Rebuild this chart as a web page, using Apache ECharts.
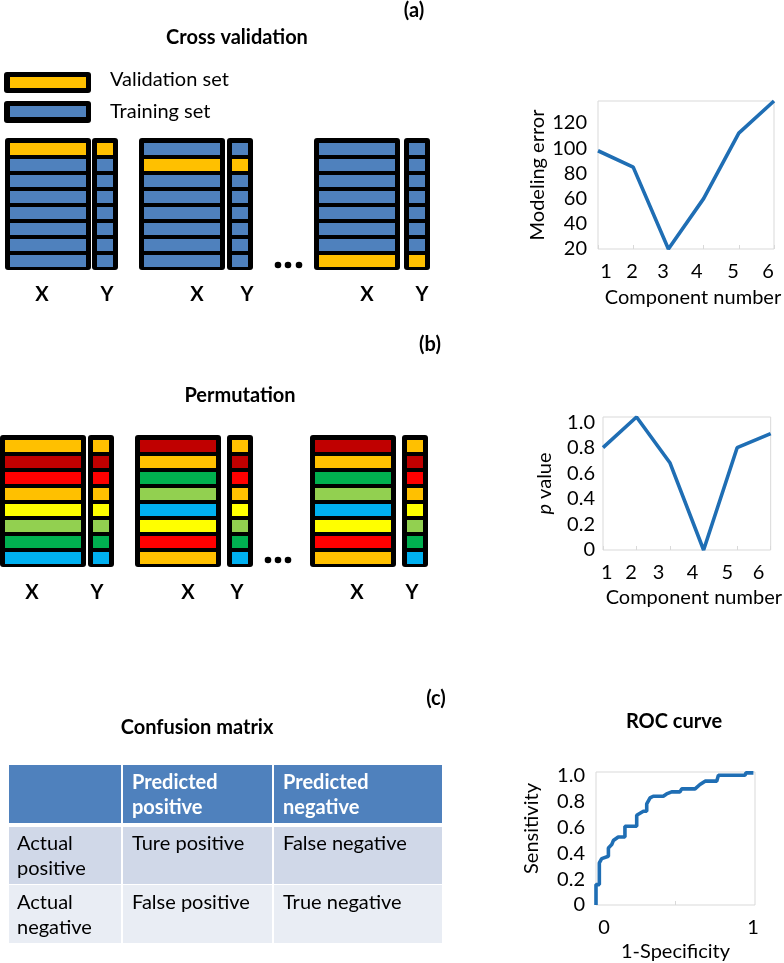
<!DOCTYPE html>
<html><head><meta charset="utf-8">
<script src="https://cdn.jsdelivr.net/npm/echarts@6/dist/echarts.min.js"></script>
<style>html,body{margin:0;padding:0;background:#fff}#c{width:784px;height:963px}</style>
</head><body><div id="c"></div>
<script>
// ---------------- data ----------------
const componentNumbers = [1, 2, 3, 4, 5, 6];
const cvModelingError = [98, 85, 20, 60, 112, 137.5];
const permPValue = [0.80, 1.04, 0.68, 0.00, 0.80, 0.91];
const cvTickPos = [1.23, 1.97, 2.85, 3.81, 4.84, 5.83];
const permTickPos = [1.11, 1.84, 2.66, 3.67, 4.71, 5.64];
const componentTickLabels = ['1', '2', '3', '4', '5', '6'];

const rocFpr = [0, 0, 0.021, 0.021, 0.036, 0.078, 0.078, 0.099, 0.109, 0.14, 0.182, 0.182, 0.256, 0.256, 0.298, 0.319, 0.319, 0.34, 0.36, 0.423, 0.444, 0.476, 0.528, 0.539, 0.623, 0.654, 0.686, 0.759, 0.77, 0.937, 0.943, 0.99];
const rocTpr = [0, 0.158, 0.158, 0.326, 0.359, 0.377, 0.442, 0.468, 0.499, 0.527, 0.527, 0.61, 0.61, 0.695, 0.726, 0.726, 0.783, 0.829, 0.842, 0.842, 0.86, 0.876, 0.876, 0.899, 0.899, 0.933, 0.959, 0.959, 1.005, 1.005, 1.023, 1.023];
const rocTickPos = [0.05, 0.987];
const rocTickLabels = ['0', '1'];

const cvBlocks = [0, 1, 2];
const cvValidationRow = [0, 1, 7];
const permRowsX = [
  ['orange', 'darkred', 'red', 'orange', 'yellow', 'lightgreen', 'green', 'cyan'],
  ['darkred', 'orange', 'green', 'lightgreen', 'cyan', 'yellow', 'red', 'orange'],
  ['darkred', 'orange', 'green', 'lightgreen', 'cyan', 'yellow', 'red', 'orange']
];
const permRowsY = [
  ['orange', 'darkred', 'red', 'orange', 'yellow', 'lightgreen', 'green', 'cyan'],
  ['orange', 'darkred', 'red', 'orange', 'yellow', 'lightgreen', 'green', 'cyan'],
  ['orange', 'darkred', 'red', 'orange', 'yellow', 'lightgreen', 'green', 'cyan']
];

const tableHeader = ['', 'Predicted\npositive', 'Predicted\nnegative'];
const tableRowLabels = ['Actual\npositive', 'Actual\nnegative'];
const tableCells = [['Ture positive', 'False negative'], ['False positive', 'True negative']];

// ---------------- styles / layout ----------------
const FONT = 'Lato, "Open Sans", sans-serif';
const LINE = '#1F6EB4';
const palette = {
  orange: '#FFC000', darkred: '#C00000', red: '#FF0000', yellow: '#FFFF00',
  lightgreen: '#92D050', green: '#00B050', cyan: '#00B0F0',
  validation: '#FFC000', training: '#4F81BD'
};
const blockLayoutA = { xLeft: [5, 139, 314], yLeft: [92, 227, 404] };
const blockLayoutB = { xLeft: [0, 135, 310], yLeft: [88, 227, 402] };

function nearestLabel(v, pos, labels) {
  let bi = 0, bd = Infinity;
  pos.forEach((p, i) => { const d = Math.abs(p - v); if (d < bd) { bd = d; bi = i; } });
  return labels[bi];
}
function multipleFmt(step, fmt) {
  return function (v) {
    const k = v / step;
    if (Math.abs(k - Math.round(k)) > 1e-6) return '';
    return fmt(v);
  };
}
const decFmt = v => (Math.abs(v) < 1e-9 ? '0' : v.toFixed(1));

function makeBlockRenderer(layout, rowColorFn, yColorFn) {
  return function (params, api) {
    const b = api.value(0);
    const xl = layout.xLeft[b], yl = layout.yLeft[b];
    const p0 = api.coord([xl, 0]);
    const pitch = api.size([0, 1])[1];
    const top = p0[1];
    const yP = api.coord([yl, 0])[0];
    const children = [
      { type: 'rect', shape: { x: p0[0], y: top - 3, width: 86, height: 8 * pitch + 4, r: 3 }, style: { fill: '#000' } },
      { type: 'rect', shape: { x: yP, y: top - 3, width: 26, height: 8 * pitch + 4, r: 3 }, style: { fill: '#000' } }
    ];
    for (let r = 0; r < 8; r++) {
      const ry = api.coord([xl, r])[1] + 2;
      children.push({ type: 'rect', shape: { x: p0[0] + 5, y: ry, width: 76, height: 12 }, style: { fill: rowColorFn(b, r) } });
      children.push({ type: 'rect', shape: { x: yP + 5, y: ry, width: 16, height: 12 }, style: { fill: yColorFn(b, r) } });
    }
    return { type: 'group', children };
  };
}

const tableColEdges = [0, 113, 264, 433];
const tableRowEdges = [[0, 58], [62, 119], [120, 178]];
const tableFills = ['#4F81BD', '#D0D8E8', '#E9EDF4'];
const tableData = [];
for (let r = 0; r < 3; r++) for (let c = 0; c < 3; c++) tableData.push([r, c]);
function tableText(r, c) {
  if (r === 0) return tableHeader[c];
  if (c === 0) return tableRowLabels[r - 1];
  return tableCells[r - 1][c - 1];
}

const axisText = { color: '#000', fontSize: 20, fontFamily: FONT };
const hiddenAxis = { show: false };

const option = {
  animation: false,
  backgroundColor: '#fff',
  grid: [
    { left: 598, top: 101, width: 176, height: 148, show: true, borderColor: '#D9D9D9', borderWidth: 1 },
    { left: 603, top: 417, width: 178, height: 133, show: true, borderColor: '#D9D9D9', borderWidth: 1 },
    { left: 596, top: 772, width: 159, height: 133, show: true, borderColor: '#D9D9D9', borderWidth: 1 },
    { left: 0, top: 141, width: 440, height: 128 },
    { left: 0, top: 438, width: 440, height: 128 },
    { left: 9, top: 765, width: 433, height: 178 }
  ],
  xAxis: [
    {
      gridIndex: 0, type: 'value', min: 1, max: 6,
      axisLine: { show: false }, splitLine: { show: false },
      axisTick: { show: true, inside: true, length: 4, customValues: componentNumbers, lineStyle: { color: '#D9D9D9' } },
      axisLabel: Object.assign({ margin: 13, customValues: cvTickPos, formatter: v => nearestLabel(v, cvTickPos, componentTickLabels) }, axisText),
      name: 'Component number', nameLocation: 'middle', nameGap: 39,
      nameTextStyle: Object.assign({ padding: [0, 0, 0, 14] }, axisText)
    },
    {
      gridIndex: 1, type: 'value', min: 1, max: 6,
      axisLine: { show: false }, splitLine: { show: false },
      axisTick: { show: true, inside: true, length: 4, customValues: componentNumbers, lineStyle: { color: '#D9D9D9' } },
      axisLabel: Object.assign({ margin: 13, customValues: permTickPos, formatter: v => nearestLabel(v, permTickPos, componentTickLabels) }, axisText),
      name: 'Component number', nameLocation: 'middle', nameGap: 38,
      nameTextStyle: Object.assign({ padding: [0, 0, 0, 14] }, axisText)
    },
    {
      gridIndex: 2, type: 'value', min: 0, max: 1,
      axisLine: { show: false }, splitLine: { show: false },
      axisTick: { show: true, inside: true, length: 4, customValues: [0.5], lineStyle: { color: '#D9D9D9' } },
      axisLabel: Object.assign({ margin: 13, customValues: rocTickPos, formatter: v => nearestLabel(v, rocTickPos, rocTickLabels) }, axisText),
      name: '1-Specificity', nameLocation: 'middle', nameGap: 37,
      nameTextStyle: Object.assign({}, axisText)
    },
    Object.assign({ gridIndex: 3, type: 'value', min: 0, max: 440 }, hiddenAxis),
    Object.assign({ gridIndex: 4, type: 'value', min: 0, max: 440 }, hiddenAxis),
    Object.assign({ gridIndex: 5, type: 'value', min: 0, max: 433 }, hiddenAxis)
  ],
  yAxis: [
    {
      gridIndex: 0, type: 'value', min: 20, max: 137.5, interval: 20,
      axisLine: { show: false }, splitLine: { show: false }, axisTick: { show: false },
      axisLabel: Object.assign({ margin: 11, formatter: multipleFmt(20, v => String(v)) }, axisText),
      name: 'Modeling error', nameLocation: 'middle', nameGap: 50,
      nameTextStyle: Object.assign({}, axisText)
    },
    {
      gridIndex: 1, type: 'value', min: 0, max: 1.04, interval: 0.2,
      axisLine: { show: false }, splitLine: { show: false }, axisTick: { show: false },
      axisLabel: Object.assign({ margin: 8, formatter: multipleFmt(0.2, decFmt) }, axisText),
      name: '{i|p} value', nameLocation: 'middle', nameGap: 48,
      nameTextStyle: Object.assign({ rich: { i: { fontStyle: 'italic', fontSize: 20, fontFamily: FONT, color: '#000' } } }, axisText)
    },
    {
      gridIndex: 2, type: 'value', min: 0, max: 1.03, interval: 0.2,
      axisLine: { show: false }, splitLine: { show: false }, axisTick: { show: false },
      axisLabel: Object.assign({ margin: 11, formatter: multipleFmt(0.2, decFmt) }, axisText),
      name: 'Sensitivity', nameLocation: 'middle', nameGap: 54,
      nameTextStyle: Object.assign({ padding: [0, 0, 0, 20] }, axisText)
    },
    Object.assign({ gridIndex: 3, type: 'value', min: 0, max: 8, inverse: true }, hiddenAxis),
    Object.assign({ gridIndex: 4, type: 'value', min: 0, max: 8, inverse: true }, hiddenAxis),
    Object.assign({ gridIndex: 5, type: 'value', min: 0, max: 178, inverse: true }, hiddenAxis)
  ],
  series: [
    {
      type: 'line', xAxisIndex: 0, yAxisIndex: 0, showSymbol: false, clip: false,
      lineStyle: { color: LINE, width: 3.6 },
      data: componentNumbers.map((x, i) => [x, cvModelingError[i]])
    },
    {
      type: 'line', xAxisIndex: 1, yAxisIndex: 1, showSymbol: false, clip: false,
      lineStyle: { color: LINE, width: 3.6 },
      data: componentNumbers.map((x, i) => [x, permPValue[i]])
    },
    {
      type: 'line', xAxisIndex: 2, yAxisIndex: 2, showSymbol: false, clip: false,
      lineStyle: { color: LINE, width: 3.6 },
      data: rocFpr.map((x, i) => [x, rocTpr[i]])
    },
    {
      type: 'custom', xAxisIndex: 3, yAxisIndex: 3, clip: false,
      renderItem: makeBlockRenderer(blockLayoutA,
        (b, r) => (r === cvValidationRow[b] ? palette.validation : palette.training),
        (b, r) => (r === cvValidationRow[b] ? palette.validation : palette.training)),
      data: cvBlocks.map(b => [b])
    },
    {
      type: 'custom', xAxisIndex: 4, yAxisIndex: 4, clip: false,
      renderItem: makeBlockRenderer(blockLayoutB,
        (b, r) => palette[permRowsX[b][r]],
        (b, r) => palette[permRowsY[b][r]]),
      data: cvBlocks.map(b => [b])
    },
    {
      type: 'custom', xAxisIndex: 5, yAxisIndex: 5, clip: false,
      renderItem: function (params, api) {
        const r = api.value(0), c = api.value(1);
        const x0 = tableColEdges[c] + (c > 0 ? 1 : 0);
        const x1 = tableColEdges[c + 1] - (c < 2 ? 1 : 0);
        const y0 = tableRowEdges[r][0], y1 = tableRowEdges[r][1];
        const a = api.coord([x0, y0]), b = api.coord([x1, y1]);
        return {
          type: 'group', children: [
            { type: 'rect', shape: { x: a[0], y: a[1], width: b[0] - a[0], height: b[1] - a[1] }, style: { fill: tableFills[r] } },
            {
              type: 'text', x: a[0] + (c === 0 ? 8 : 9), y: a[1] + (r === 1 ? 4 : 5),
              style: {
                text: tableText(r, c), fill: r === 0 ? '#fff' : '#000',
                fontSize: 20, fontFamily: FONT, fontWeight: r === 0 ? 'bold' : 'normal',
                lineHeight: 25, align: 'left', verticalAlign: 'top'
              }
            }
          ]
        };
      },
      data: tableData
    }
  ],
  graphic: [
    // panel labels and titles
    ...[['(a)', 414, 11], ['(b)', 430, 345], ['(c)', 436, 699],
        ['Cross validation', 237, 38], ['Permutation', 240, 396],
        ['Confusion matrix', 197, 728], ['ROC curve', 674, 722],
        ['X', 42, 295], ['Y', 107, 295], ['X', 197, 295], ['Y', 247, 295], ['X', 367, 295], ['Y', 422, 295],
        ['X', 32, 593], ['Y', 97, 593], ['X', 188, 593], ['Y', 237, 593], ['X', 357, 593], ['Y', 412, 593]
    ].map(t => ({
      type: 'text', x: t[1], y: t[2],
      style: { text: t[0], fill: '#000', fontSize: 20, fontWeight: 'bold', fontFamily: FONT, align: 'center', verticalAlign: 'middle' }
    })),
    // legend
    { type: 'rect', shape: { x: 4, y: 72, width: 87, height: 21, r: 3 }, style: { fill: '#000' } },
    { type: 'rect', shape: { x: 10, y: 77, width: 76, height: 11 }, style: { fill: palette.validation } },
    { type: 'rect', shape: { x: 4, y: 101, width: 87, height: 22, r: 3 }, style: { fill: '#000' } },
    { type: 'rect', shape: { x: 10, y: 106, width: 76, height: 11 }, style: { fill: palette.training } },
    { type: 'text', x: 110, y: 80, style: { text: 'Validation set', fill: '#000', fontSize: 20, fontFamily: FONT, align: 'left', verticalAlign: 'middle' } },
    { type: 'text', x: 110, y: 112, style: { text: 'Training set', fill: '#000', fontSize: 20, fontFamily: FONT, align: 'left', verticalAlign: 'middle' } },
    // ellipsis dots
    ...[[278, 265], [288, 265], [299, 265], [268, 560], [278, 560], [288, 560]].map(p => ({
      type: 'circle', shape: { cx: p[0], cy: p[1], r: 3.3 }, style: { fill: '#000' }
    }))
  ]
};

const chart = echarts.init(document.getElementById('c'), null, { renderer: 'canvas' });
chart.setOption(option);
</script>
</body></html>
